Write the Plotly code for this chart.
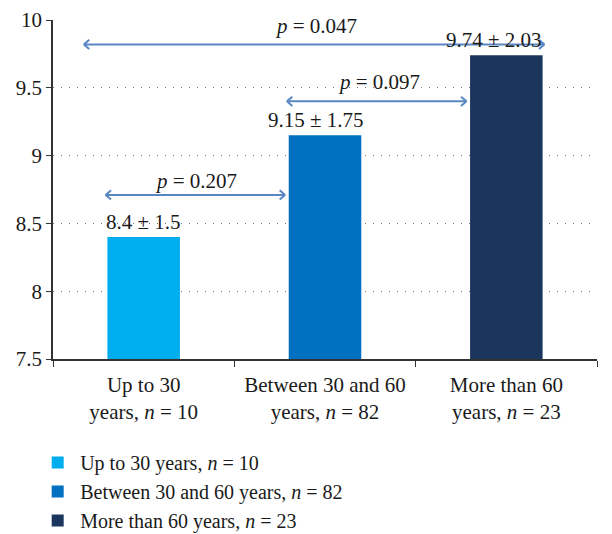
import plotly.graph_objects as go

categories = ["Up to 30<br>years, <i>n</i> = 10",
              "Between 30 and 60<br>years, <i>n</i> = 82",
              "More than 60<br>years, <i>n</i> = 23"]
legend_names = ["Up to 30 years, <i>n</i> = 10",
                "Between 30 and 60 years, <i>n</i> = 82",
                "More than 60 years, <i>n</i> = 23"]
means = [8.4, 9.15, 9.74]
sds = [1.5, 1.75, 2.03]
colors = ["#00AEEF", "#0070C0", "#1B365D"]

# comparisons: (start, end, y, p-value)
comparisons = [(-0.21, 0.78, 8.71, "0.207"),
               (0.79, 1.78, 9.40, "0.097"),
               (-0.33, 2.21, 9.82, "0.047")]
p_label_pos = [(0.29, 8.81), (1.30, 9.545), (0.95, 9.955)]
value_label_pos = [(0.0, 8.51), (0.95, 9.265), (1.93, 9.85)]

FONT = "Liberation Serif"
TXT = "#1a1a1a"
ARROW = "#5A86C4"
FS = 21

fig = go.Figure()
for i in range(3):
    fig.add_trace(go.Bar(x=[categories[i]], y=[means[i]], name=legend_names[i],
                         marker=dict(color=colors[i], line=dict(width=0)),
                         width=0.4))

shapes = []
ax, ay = 0.03, 0.034
for (x0, x1, y, p) in comparisons:
    shapes.append(dict(type="line", xref="x", yref="y", x0=x0, x1=x1, y0=y, y1=y,
                       line=dict(color=ARROW, width=2)))
    for (xt, s) in [(x0, 1), (x1, -1)]:
        for dy in (ay, -ay):
            shapes.append(dict(type="line", xref="x", yref="y", x0=xt, y0=y,
                               x1=xt + s * ax, y1=y + dy,
                               line=dict(color=ARROW, width=2)))

annotations = []
for (x0, x1, y, p), (px, py) in zip(comparisons, p_label_pos):
    annotations.append(dict(x=px, y=py, xref="x", yref="y", text="<i>p</i> = " + p,
                            showarrow=False, font=dict(family=FONT, size=FS, color=TXT),
                            xanchor="center", yanchor="middle"))
for (vx, vy), m, s in zip(value_label_pos, means, sds):
    annotations.append(dict(x=vx, y=vy, xref="x", yref="y",
                            text=f"{m:g} ± {s:g}", showarrow=False,
                            font=dict(family=FONT, size=FS, color=TXT),
                            xanchor="center", yanchor="middle"))

fig.update_layout(
    width=604, height=526,
    margin=dict(l=45, r=15, t=12, b=175, autoexpand=False),
    plot_bgcolor="white", paper_bgcolor="white",
    font=dict(family=FONT, size=FS, color=TXT),
    showlegend=True,
    legend=dict(x=0.045, y=0.173, xref="container", yref="container",
                xanchor="left", yanchor="top",
                orientation="v", font=dict(family=FONT, size=20, color=TXT),
                tracegroupgap=0, itemwidth=35),
    shapes=shapes, annotations=annotations,
)
fig.update_xaxes(showline=True, linecolor="#333", linewidth=1.5,
                 ticks="outside", tickson="boundaries", ticklen=6, tickcolor="#333",
                 ticklabelstandoff=6,
                 showgrid=False, range=[-0.5, 2.5])
fig.update_yaxes(range=[7.5, 10], tickvals=[7.5, 8, 8.5, 9, 9.5, 10],
                 ticktext=["7.5", "8", "8.5", "9", "9.5", "10"],
                 showline=True, linecolor="#333", linewidth=1.5,
                 ticks="outside", ticklen=5, tickcolor="#333",
                 showgrid=True, gridcolor="#777", griddash="1px,7px", gridwidth=1.2,
                 zeroline=False)

fig.write_html("out.html")
